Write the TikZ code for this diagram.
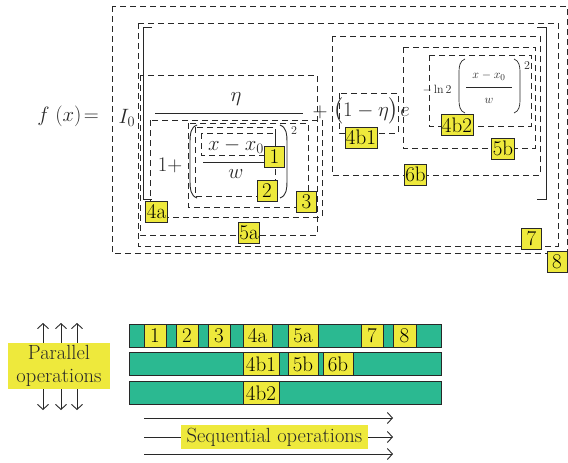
\documentclass[tikz,border=0pt]{standalone}
\usepackage{tikz}
\usetikzlibrary{positioning,arrows.meta}
\usepackage{amsmath}
\usepackage{amssymb}
\definecolor{tagyellow}{RGB}{238,233,60}
\definecolor{barteal}{RGB}{43,185,145}
\definecolor{inkgray}{RGB}{40,40,40}
\tikzset{tag node/.style={draw=inkgray,fill=tagyellow,line width=0.8pt,inner sep=1pt,minimum width=20pt,minimum height=21pt,font=\fontsize{21}{23}\selectfont},
  bar node/.style={draw=inkgray,fill=barteal,line width=0.8pt,minimum width=312pt,minimum height=23pt,inner sep=0pt},
  dash box/.style={draw=inkgray,line width=0.9pt,dash pattern=on 6pt off 4pt},
  big math/.style={inner sep=0pt,text=inkgray,font=\fontsize{22}{26}\selectfont},
  small math/.style={inner sep=0pt,text=inkgray,font=\fontsize{13}{15}\selectfont},
  note node/.style={fill=tagyellow,inner sep=1pt,text=inkgray,font=\fontsize{20.5}{23}\selectfont,align=center},}

\begin{document}
\begin{tikzpicture}[x=1pt,y=-1pt,line width=0.9pt,>={Straight Barb[length=5pt,width=11pt]}]
      \useasboundingbox (0,0) rectangle (568,463);

      % nested operation boxes
      \draw[dash box] (112,6) rectangle (567,253);
      \draw[dash box] (138,23) rectangle (558,246);
      \draw[dash box] (140,75) rectangle (317,235);
      \draw[dash box] (150,120) rectangle (322,217);
      \draw[dash box] (188,123) rectangle (308,207);
      \draw[dash box] (195,127) rectangle (275,196);
      \draw[dash box] (201,133) rectangle (275,155);
      \draw[dash box] (332,36) rectangle (540,175);
      \draw[dash box] (403,47) rectangle (535,148);
      \draw[dash box] (429,55) rectangle (531,126);
      \draw[dash box] (339,93) rectangle (398,133);

      % square brackets
      \draw[inkgray] (152,27) -- (143,27) -- (143,199) -- (152,199);
      \draw[inkgray] (537,27) -- (546,27) -- (546,199) -- (537,199);

      % formula
      \node[big math] (fx) at (68,116) {$f\;(x)\!=$};
      \node[big math] (i0) at (127,118) {$I_0$};
      \node[big math] (eta) at (236,99) {$\eta$};
      \draw[inkgray] (155,113) -- (303,113);
      \node[big math] (onep) at (170,165) {$1+$};
      \node[big math] (num) at (236,146) {$x-x_0$};
      \node[big math] (den) at (236,174) {$w$};
      \draw[inkgray] (203,162) -- (265,162);
      \draw[inkgray] (197,125) to[out=200,in=90] (190,142) -- (190,181) to[out=-90,in=160] (197,198);
      \draw[inkgray] (280,125) to[out=-20,in=90] (287,142) -- (287,181) to[out=-90,in=20] (280,198);
      \node[small math] (sq1) at (294,131) {$2$};
      \node[big math] (plus) at (320,112) {$+$};
      \node[big math] (onem) at (366,111) {$\bigl(1-\eta\bigr)$};
      \node[big math] (e) at (405,112) {$e$};
      \node[small math] (ln) at (437,90) {$-\ln 2$};
      \draw[inkgray,line width=0.7pt] (465,59) to[out=200,in=90] (459,72) -- (459,100) to[out=-90,in=160] (465,113);
      \draw[inkgray,line width=0.7pt] (514,59) to[out=-20,in=90] (520,72) -- (520,100) to[out=-90,in=20] (514,113);
      \node[small math] (num2) at (489,76) {$x-x_0$};
      \node[small math] (den2) at (489,101) {$w$};
      \draw[inkgray,line width=0.7pt] (466,87) -- (512,87);
      \node[small math] (sq2) at (527,66) {$2$};

      % box tags
      \node[tag node] (t1) at (274.5,156.5) {1};
      \node[tag node] (t2) at (267,191) {2};
      \node[tag node] (t3) at (306.5,201.5) {3};
      \node[tag node] (t4a) at (156.5,211.5) {4a};
      \node[tag node] (t5a) at (249,232.5) {5a};
      \node[tag node] (t7) at (531.5,238.5) {7};
      \node[tag node] (t8) at (557,261.5) {8};
      \node[tag node] (t4b1) at (361,137.5) {4b1};
      \node[tag node] (t4b2) at (457,125) {4b2};
      \node[tag node] (t5b) at (503,148.5) {5b};
      \node[tag node] (t6b) at (415.5,174.5) {6b};

      % schedule
      \node[bar node] (row1) at (285,335.5) {};
      \node[bar node] (row2) at (285,364) {};
      \node[bar node] (row3) at (285,393) {};
      \node[tag node,minimum height=23pt,minimum width=22pt] (r1) at (155,335.5) {1};
      \node[tag node,minimum height=23pt,minimum width=22pt] (r2) at (187,335.5) {2};
      \node[tag node,minimum height=23pt,minimum width=22pt] (r3) at (219,335.5) {3};
      \node[tag node,minimum height=23pt,minimum width=29pt] (r4a) at (257.5,335.5) {4a};
      \node[tag node,minimum height=23pt,minimum width=30pt] (r5a) at (303,335.5) {5a};
      \node[tag node,minimum height=23pt,minimum width=22pt] (r7) at (372,335.5) {7};
      \node[tag node,minimum height=23pt,minimum width=23pt] (r8) at (404.5,335.5) {8};
      \node[tag node,minimum height=23pt,minimum width=36pt] (r4b1) at (261,364) {4b1};
      \node[tag node,minimum height=23pt,minimum width=30pt] (r5b) at (303,364) {5b};
      \node[tag node,minimum height=23pt,minimum width=30pt] (r6b) at (338,364) {6b};
      \node[tag node,minimum height=23pt,minimum width=36pt] (r4b2) at (261,393) {4b2};

      \node[note node,minimum width=102pt,minimum height=46pt] (par) at (59,366) {Parallel\\operations};
      \node[note node,minimum width=187pt,minimum height=24pt] (seq) at (274.5,437) {Sequential operations};

      \coordinate (u1) at (43,323);
      \coordinate (u2) at (61,323);
      \coordinate (u3) at (77,323);
      \coordinate (d1) at (43,410);
      \coordinate (d2) at (61,410);
      \coordinate (d3) at (77,410);
      \coordinate (s1) at (144,418);
      \coordinate (e1) at (393,418);
      \coordinate (s2) at (144,437);
      \coordinate (e2) at (393,437);
      \coordinate (s3) at (144,454);
      \coordinate (e3) at (393,454);

      \path[inkgray][->]
        (par.north -| u1) edge (u1)
        (par.north -| u2) edge (u2)
        (par.north -| u3) edge (u3)
        (par.south -| d1) edge (d1)
        (par.south -| d2) edge (d2)
        (par.south -| d3) edge (d3)
        (s1) edge (e1)
        (seq.east) edge (e2)
        (s3) edge (e3);
      \draw[inkgray] (s2) -- (seq.west);

    \end{tikzpicture}
\end{document}
